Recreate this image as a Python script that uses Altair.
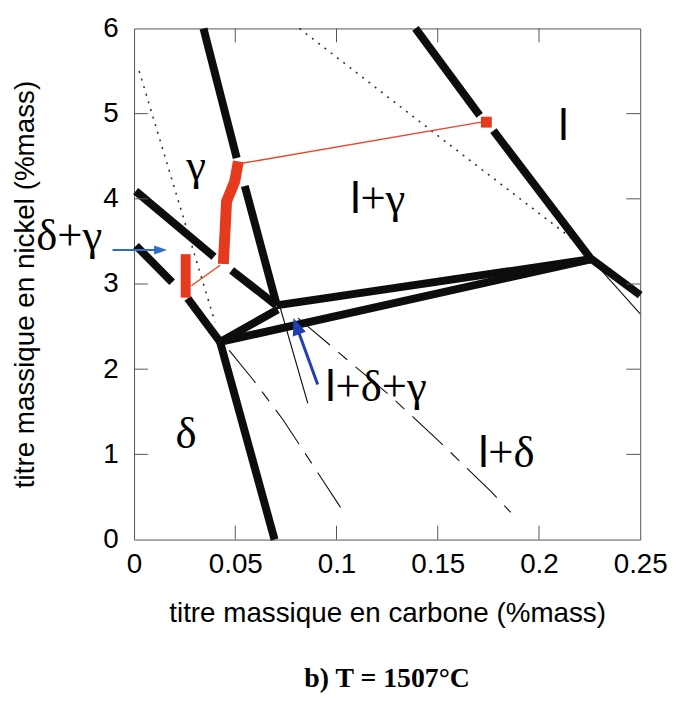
import altair as alt
import pandas as pd

# ---------------- data ----------------
X_TICKS = [0, 0.05, 0.1, 0.15, 0.2, 0.25]
Y_TICKS = [0, 1, 2, 3, 4, 5, 6]

# thick black phase boundaries: name -> (carbon, nickel)
THICK_BLACK = {
    "A": ([0.0343, 0.0507], [6.0, 4.48]),
    "B": ([0.0547, 0.0703], [4.15, 2.77]),
    "C": ([0.0008, 0.0395], [4.09, 3.32]),
    "D": ([0.0010, 0.0188], [3.45, 3.02]),
    "E": ([0.0265, 0.0425], [2.83, 2.32]),
    "F": ([0.0482, 0.0703], [3.16, 2.75]),
    "G": ([0.0425, 0.0694], [2.32, 0.0]),
    "H": ([0.0425, 0.0710], [2.32, 2.70]),
    "I": ([0.0703, 0.2255], [2.75, 3.29]),
    "J": ([0.0425, 0.2255], [2.32, 3.29]),
    "K": ([0.139, 0.1707], [6.0, 4.98]),
    "L": ([0.1775, 0.2255, 0.25], [4.80, 3.30, 2.87]),
}
RED_THICK = {
    "R1": ([0.0441, 0.0457, 0.0498, 0.0515], [3.235, 3.97, 4.21, 4.44]),
}
RED_BAR = {
    "R2": ([0.0255, 0.0255], [3.35, 2.84]),
}
RED_THIN = {
    "T1": ([0.0539, 0.1715], [4.42, 4.90]),
    "T2": ([0.0283, 0.0425], [2.98, 3.22]),
}
RED_SQUARE_X = [0.174]
RED_SQUARE_Y = [4.90]
DOTTED = {
    "D1": ([0.0025, 0.0400], [5.5, 2.55]),
    "D2": ([0.0817, 0.1528, 0.2165], [6.0, 4.69, 3.53]),
}
DASHDOT = {
    "S1": ([0.047, 0.0588, 0.0735, 0.1046], [2.22, 1.876, 1.41, 0.283]),
    "S2": ([0.081, 0.1103, 0.125, 0.1495, 0.1765, 0.186], [2.60, 2.01, 1.72, 1.18, 0.56, 0.32]),
}
THIN_SOLID = {
    "N1": ([0.0715, 0.0858], [2.78, 1.60]),
    "N2": ([0.2255, 0.25], [3.30, 2.65]),
}
# blue arrows (tail -> head centre)
ARROW1 = {"x": [-0.0106], "y": [3.40], "x2": [0.0131], "y2": [3.40]}
ARROW2 = {"x": [0.0907], "y": [1.82], "x2": [0.0802], "y2": [2.507]}

# phase labels
CENTER_LABELS = {"x": [0.0306, 0.0257, -0.032], "y": [4.22, 1.08, 3.40], "text": ["γ", "δ", "δ+γ"]}
L_LABELS = {
    "x": [0.1118, 0.0995, 0.175, 0.2145],
    "y": [3.837, 1.623, 0.847, 4.695],
    "head": ["l", "l", "l", "l"],
    "tail": ["+γ", "+δ+γ", "+δ", ""],
}


def seg_df(segs):
    rows = []
    for name, (xs, ys) in segs.items():
        for i, (x, y) in enumerate(zip(xs, ys)):
            rows.append({"seg": name, "i": i, "x": x, "y": y})
    return pd.DataFrame(rows)


xscale = alt.Scale(domain=[0, 0.25], nice=False, zero=False)
yscale = alt.Scale(domain=[0, 6], nice=False, zero=False)
xaxis = alt.Axis(values=X_TICKS, format="~g", ticks=False, domain=False, grid=False,
                 labelPadding=11, labelFlush=False, titlePadding=22,
                 title="titre massique en carbone (%mass)")
yaxis = alt.Axis(values=Y_TICKS, format="d", ticks=False, domain=False, grid=False,
                 labelPadding=16, labelFlush=False, titlePadding=64,
                 title="titre massique en nickel (%mass)")
X = alt.X("x:Q", scale=xscale, axis=xaxis)
Y = alt.Y("y:Q", scale=yscale, axis=yaxis)


def lines(segs, **mark):
    return alt.Chart(seg_df(segs)).mark_line(**mark).encode(
        x=X, y=Y, detail="seg:N", order="i:Q")


layers = []
layers.append(lines(DOTTED, color="#333333", strokeWidth=1.6, strokeDash=[2, 6]))
layers.append(lines(DASHDOT, color="#111111", strokeWidth=1.1, strokeDash=[42, 11, 12, 11]))
layers.append(lines(THIN_SOLID, color="#111111", strokeWidth=1.1))
layers.append(lines(THICK_BLACK, color="#0d0d0d", strokeWidth=8))
layers.append(lines(RED_THICK, color="#e63a1e", strokeWidth=11))
layers.append(lines(RED_BAR, color="#e63a1e", strokeWidth=10))
layers.append(lines(RED_THIN, color="#e8452a", strokeWidth=1.4))
layers.append(
    alt.Chart(pd.DataFrame({"x": RED_SQUARE_X, "y": RED_SQUARE_Y}))
    .mark_point(shape="square", filled=True, size=120, color="#e63a1e", opacity=1)
    .encode(x=X, y=Y)
)

# blue arrows
a1 = pd.DataFrame(ARROW1)
a2 = pd.DataFrame(ARROW2)
layers.append(alt.Chart(a1).mark_rule(color="#2e6cc6", strokeWidth=2).encode(
    x=X, y=Y, x2="x2:Q", y2="y2:Q"))
layers.append(alt.Chart(a1).mark_point(shape="M0,-1L0.7,1L-0.7,1Z", filled=True, size=169, angle=90,
                                       color="#2e6cc6", opacity=1).encode(
    x=alt.X("x2:Q", scale=xscale, axis=xaxis), y=alt.Y("y2:Q", scale=yscale, axis=yaxis)))
layers.append(alt.Chart(a2).mark_rule(color="#1f3fb3", strokeWidth=3).encode(
    x=X, y=Y, x2="x2:Q", y2="y2:Q"))
layers.append(alt.Chart(a2).mark_point(shape="M0,-1L0.8,1L-0.8,1Z", filled=True, size=300, angle=340,
                                       color="#1f3fb3", opacity=1).encode(
    x=alt.X("x2:Q", scale=xscale, axis=xaxis), y=alt.Y("y2:Q", scale=yscale, axis=yaxis)))

# labels
LABEL_SIZE = 45
layers.append(
    alt.Chart(pd.DataFrame(CENTER_LABELS))
    .mark_text(font="Liberation Serif", fontSize=LABEL_SIZE, align="center", baseline="alphabetic", color="black")
    .encode(x=X, y=Y, text="text:N")
)
ll = pd.DataFrame(L_LABELS)
layers.append(
    alt.Chart(ll)
    .mark_text(font="Liberation Sans", fontSize=LABEL_SIZE, align="right", baseline="alphabetic", color="black")
    .encode(x=X, y=Y, text="head:N")
)
layers.append(
    alt.Chart(ll)
    .mark_text(font="Liberation Serif", fontSize=LABEL_SIZE, align="left", baseline="alphabetic", color="black")
    .encode(x=X, y=Y, text="tail:N")
)

# inward ticks on all four sides
inner_x = pd.DataFrame({"x": X_TICKS[1:-1]})
inner_y = pd.DataFrame({"y": Y_TICKS[1:-1]})
tick_style = dict(color="#555555", strokeWidth=1)
layers.append(alt.Chart(inner_x).mark_rule(**tick_style).encode(x=X, y=alt.value(515), y2=alt.value(501)))
layers.append(alt.Chart(inner_x).mark_rule(**tick_style).encode(x=X, y=alt.value(0), y2=alt.value(14)))
layers.append(alt.Chart(inner_y).mark_rule(**tick_style).encode(y=Y, x=alt.value(0), x2=alt.value(14)))
layers.append(alt.Chart(inner_y).mark_rule(**tick_style).encode(y=Y, x=alt.value(510), x2=alt.value(496)))

chart = (
    alt.layer(*layers)
    .properties(
        width=510,
        height=515,
        autosize=alt.AutoSizeParams(type="none"),
        padding={"left": 127, "top": 18, "right": 28, "bottom": 153},
        title=alt.TitleParams(
            "b) T = 1507°C", orient="bottom", anchor="middle", font="Liberation Serif",
            fontSize=28, fontWeight="bold", color="black", offset=38,
        ),
    )
    .configure_view(stroke="#555555", strokeWidth=1)
    .configure_axis(
        labelFont="Liberation Sans", labelFontSize=28, labelColor="black",
        titleFont="Liberation Sans", titleFontSize=28, titleFontWeight="normal", titleColor="black",
    )
)

chart.save("out.html", embed_options={"renderer": "svg", "actions": False})
